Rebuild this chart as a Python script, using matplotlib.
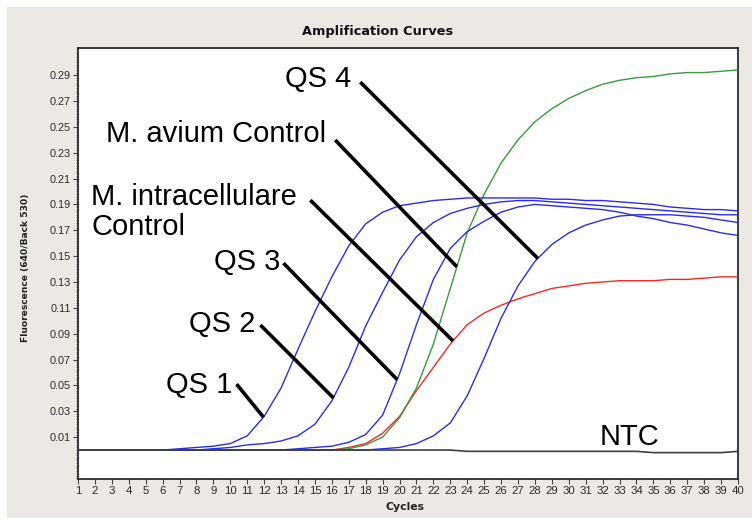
import numpy as np
import matplotlib
matplotlib.use("Agg")
import matplotlib.pyplot as plt
from matplotlib.patches import Rectangle
from matplotlib.ticker import MultipleLocator

# ---------------- data ----------------
cycles = list(range(1, 41))

qs1 = [0.000, 0.000, 0.000, 0.000, 0.000, 0.000, 0.001, 0.002, 0.003, 0.005,
       0.011, 0.026, 0.048, 0.078, 0.107, 0.134, 0.158, 0.175, 0.184, 0.189,
       0.191, 0.193, 0.194, 0.195, 0.195, 0.195, 0.195, 0.195, 0.194, 0.194,
       0.193, 0.193, 0.192, 0.191, 0.190, 0.188, 0.187, 0.186, 0.186, 0.185]

qs2 = [0.000, 0.000, 0.000, 0.000, 0.000, 0.000, 0.000, 0.000, 0.001, 0.002,
       0.004, 0.005, 0.007, 0.011, 0.020, 0.038, 0.064, 0.096, 0.122, 0.147,
       0.165, 0.176, 0.183, 0.187, 0.190, 0.192, 0.193, 0.193, 0.192, 0.191,
       0.190, 0.189, 0.188, 0.187, 0.186, 0.185, 0.184, 0.183, 0.182, 0.182]

qs3 = [0.000, 0.000, 0.000, 0.000, 0.000, 0.000, 0.000, 0.000, 0.000, 0.000,
       0.000, 0.000, 0.000, 0.001, 0.002, 0.003, 0.006, 0.012, 0.027, 0.059,
       0.097, 0.132, 0.156, 0.169, 0.177, 0.184, 0.188, 0.190, 0.189, 0.188,
       0.187, 0.186, 0.184, 0.181, 0.179, 0.176, 0.174, 0.171, 0.168, 0.166]

qs4 = [0.000, 0.000, 0.000, 0.000, 0.000, 0.000, 0.000, 0.000, 0.000, 0.000,
       0.000, 0.000, 0.000, 0.000, 0.000, 0.000, 0.000, 0.000, 0.001, 0.002,
       0.005, 0.011, 0.021, 0.042, 0.071, 0.102, 0.127, 0.146, 0.159, 0.168,
       0.174, 0.178, 0.181, 0.182, 0.182, 0.182, 0.181, 0.180, 0.178, 0.176]

m_avium = [0.000, 0.000, 0.000, 0.000, 0.000, 0.000, 0.000, 0.000, 0.000, 0.000,
           0.000, 0.000, 0.000, 0.000, 0.000, 0.000, 0.001, 0.004, 0.010, 0.025,
           0.048, 0.082, 0.125, 0.168, 0.198, 0.222, 0.240, 0.254, 0.264, 0.272,
           0.278, 0.283, 0.286, 0.288, 0.289, 0.291, 0.292, 0.292, 0.293, 0.294]

m_intra = [0.000, 0.000, 0.000, 0.000, 0.000, 0.000, 0.000, 0.000, 0.000, 0.000,
           0.000, 0.000, 0.000, 0.000, 0.000, 0.000, 0.002, 0.005, 0.013, 0.026,
           0.046, 0.064, 0.082, 0.097, 0.106, 0.112, 0.117, 0.121, 0.125, 0.127,
           0.129, 0.130, 0.131, 0.131, 0.131, 0.132, 0.132, 0.133, 0.134, 0.134]

ntc = [0.000, 0.000, 0.000, 0.000, 0.000, 0.000, 0.000, 0.000, 0.000, 0.000,
       0.000, 0.000, 0.000, 0.000, 0.000, 0.000, 0.000, 0.000, 0.000, 0.000,
       0.000, 0.000, 0.000, -0.001, -0.001, -0.001, -0.001, -0.001, -0.001, -0.001,
       -0.001, -0.001, -0.001, -0.001, -0.002, -0.002, -0.002, -0.002, -0.002, -0.001]

y_ticks = [0.01, 0.03, 0.05, 0.07, 0.09, 0.11, 0.13, 0.15, 0.17, 0.19,
           0.21, 0.23, 0.25, 0.27, 0.29]
y_tick_labels = ["0.01", "0.03", "0.05", "0.07", "0.09", "0.11", "0.13", "0.15",
                 "0.17", "0.19", "0.21", "0.23", "0.25", "0.27", "0.29"]

title = "Amplification Curves"
x_label = "Cycles"
y_label = "Fluorescence (640/Back 530)"

# ---------------- figure ----------------
W, H = 755, 522
fig = plt.figure(figsize=(W / 100, H / 100), dpi=100)
fig.patch.set_facecolor("white")
fig.patches.append(Rectangle((7 / W, 1 - 518 / H), (752 - 7) / W, (518 - 7) / H,
                             transform=fig.transFigure, facecolor="#ece9e5",
                             edgecolor="none", zorder=-10))

ax = fig.add_axes([78 / W, 1 - 479 / H, (738 - 78) / W, (479 - 48) / H])
ax.set_zorder(1)
ax.set_facecolor("white")

blue = "#2c2ce6"
green = "#3a9a3a"
red = "#f02a2a"
lw = 1.0

ax.plot(cycles, m_intra, color=red, lw=lw, zorder=3)
ax.plot(cycles, m_avium, color=green, lw=lw, zorder=3)
for s in (qs1, qs2, qs3, qs4):
    ax.plot(cycles, s, color=blue, lw=lw, zorder=3)
ax.plot(cycles, ntc, color="#404040", lw=1.2, zorder=4)

ax.set_xlim(1, 40)
ax.set_ylim(-0.0224, 0.311)
ax.set_xticks(cycles)
ax.set_xticklabels([str(c) for c in cycles])
ax.set_yticks(y_ticks)
ax.set_yticklabels(y_tick_labels)
ax.yaxis.set_minor_locator(MultipleLocator(0.002))

for sp in ax.spines.values():
    sp.set_color("#2a2a2a")
    sp.set_linewidth(1.3)

ax.tick_params(axis="both", which="major", direction="out", length=3.5,
               width=0.8, color="#444444", labelcolor="#2a2a2a", pad=1.5)
ax.tick_params(axis="x", labelsize=8.2)
ax.tick_params(axis="y", labelsize=7.8)
ax.tick_params(axis="y", which="minor", direction="out", length=1.6,
               width=0.6, color="#666666")
for lab in ax.get_xticklabels() + ax.get_yticklabels():
    lab.set_fontfamily("Liberation Sans")

fig.text(0.5, 1 - 31 / H, title, ha="center", va="center",
         fontsize=9.3, fontweight="bold", color="#111111")
fig.text(405 / W, 1 - 507 / H, x_label, ha="center", va="center",
         fontsize=7.8, fontweight="bold", color="#222222")
fig.text(26 / W, 1 - 268 / H, y_label, ha="center", va="center", rotation=90,
         fontsize=6.6, fontweight="bold", color="#222222")

# ---------------- annotations ----------------
lab_font = dict(fontsize=21, family="Liberation Sans", color="black",
                ha="left", va="baseline", zorder=6)
# (text, text x (cycle), baseline y, line start (cycle, value), series, cycle at curve)
callouts = [
    ("QS 4", 13.26, 0.2807, (17.68, 0.2846), qs4, 28.17),
    ("M. avium Control", 2.65, 0.2382, (16.2, 0.2398), m_avium, 23.39),
    ("M. intracellulare", 1.77, 0.1895, (14.73, 0.1933), m_intra, 23.16),
    ("QS 3", 9.01, 0.139, (13.14, 0.1446), qs3, 19.86),
    ("QS 2", 7.54, 0.0913, (11.78, 0.0967), qs2, 16.09),
    ("QS 1", 6.19, 0.0441, (10.37, 0.051), qs1, 11.96),
]
for text, tx, ty, (sx, sy), series, ec in callouts:
    ax.text(tx, ty, text, **lab_font)
    ey = float(np.interp(ec, cycles, series))
    ax.plot([sx, ec], [sy, ey], color="black", lw=2.6,
            solid_capstyle="butt", zorder=5)
ax.text(1.77, 0.1663, "Control", **lab_font)
ax.text(31.82, 0.0039, "NTC", **lab_font)

fig.savefig("out.png", dpi=100)
